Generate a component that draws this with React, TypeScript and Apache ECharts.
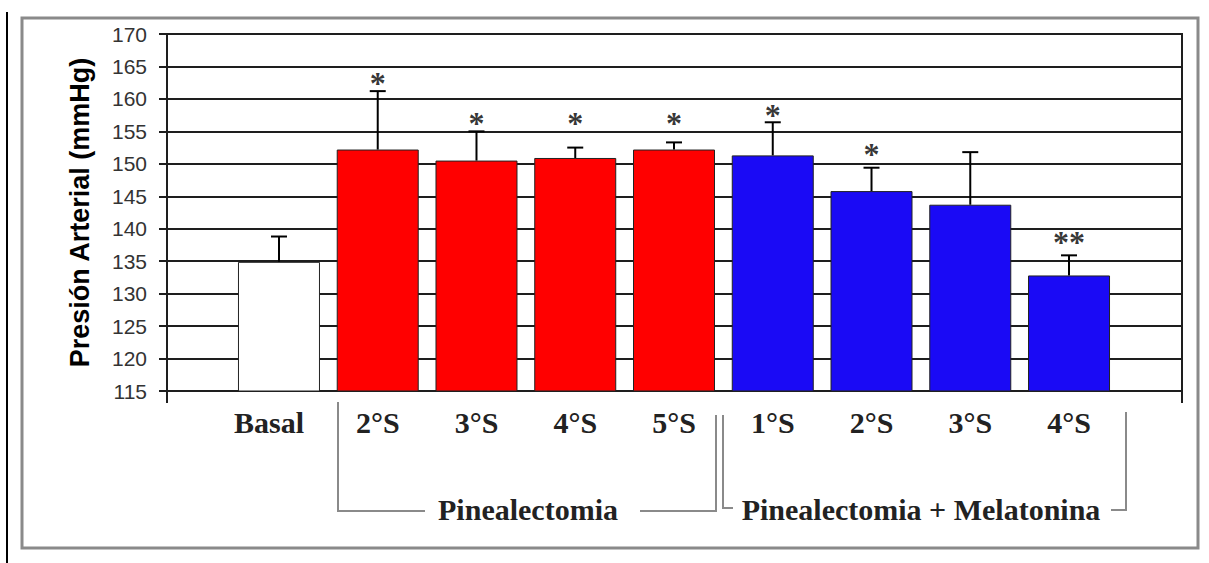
import React, { useEffect, useRef } from "react";
import * as echarts from "echarts";

const categories = ["Basal", "2°S", "3°S", "4°S", "5°S", "1°S", "2°S", "3°S", "4°S"];
const means = [134.9, 152.2, 150.5, 150.9, 152.2, 151.3, 145.8, 143.7, 132.8];
const errTops = [138.8, 161.2, 155.0, 152.5, 153.3, 156.4, 149.4, 151.8, 135.9];
const barColors = ["#ffffff", "#ff0000", "#ff0000", "#ff0000", "#ff0000", "#1a0af5", "#1a0af5", "#1a0af5", "#1a0af5"];
const starLabels = ["", "*", "*", "*", "*", "*", "*", "", "**"];
const starY = [0, 162.4, 156.3, 156.3, 156.3, 157.5, 151.5, 0, 138.0];
const yTicks = { min: 115, max: 170, step: 5 };
const groupLabels = ["Pinealectomia", "Pinealectomia + Melatonina"];

const W = 1209;
const H = 563;

export default function App() {
  const ref = useRef<HTMLDivElement>(null);
  useEffect(() => {
    if (!ref.current) return;
    const chart = echarts.init(ref.current, null, { renderer: "svg" });
    const gray = "#8a8a8a";
    const dark = "#1e1e1e";
    const serif = "'Liberation Serif', 'Times New Roman', serif";
    const sans = "'Liberation Sans', Arial, sans-serif";

    const starData = starLabels
      .map((s, i) => ({ name: s, value: [i, starY[i]] }))
      .filter((d) => d.name !== "");

    const option: any = {
      animation: false,
      backgroundColor: "#ffffff",
      grid: [
        { left: 167, right: 27, top: 34, bottom: 172, show: true, borderColor: dark, borderWidth: 2, backgroundColor: "transparent" },
        { left: 229.6, right: 90.6, top: 34, bottom: 172 },
      ],
      xAxis: [
        {
          gridIndex: 0,
          type: "value",
          min: 0,
          max: 1,
          interval: 1,
          axisLine: { show: true, lineStyle: { color: dark, width: 2 } },
          axisTick: { show: true, length: 12, lineStyle: { color: dark, width: 2 } },
          axisLabel: { show: false },
          splitLine: { show: false },
        },
        {
          gridIndex: 1,
          type: "category",
          data: categories.map((c, i) => (i === 0 ? { value: c, textStyle: { padding: [0, 20, 0, 0] } } : c)),
          axisLine: { show: false },
          axisTick: { show: false },
          axisLabel: { margin: 16, fontFamily: serif, fontWeight: "bold", fontSize: 30, color: "#222" },
        },
      ],
      yAxis: [
        {
          gridIndex: 0,
          type: "value",
          min: yTicks.min,
          max: yTicks.max,
          interval: yTicks.step,
          name: "Presión Arterial (mmHg)",
          nameLocation: "middle",
          nameRotate: 90,
          nameGap: 74,
          nameTextStyle: { fontFamily: sans, fontWeight: "bold", fontSize: 27, color: "#000" },
          axisLine: { show: true, lineStyle: { color: dark, width: 2 } },
          axisTick: { show: true, length: 8, lineStyle: { color: dark, width: 2 } },
          axisLabel: { margin: 20, fontFamily: sans, fontSize: 21, color: "#333" },
          splitLine: { show: true, lineStyle: { color: dark, width: 2 } },
        },
        {
          gridIndex: 1,
          type: "value",
          min: yTicks.min,
          max: yTicks.max,
          interval: yTicks.step,
          show: false,
          splitLine: { show: false },
        },
      ],
      series: [
        {
          type: "bar",
          xAxisIndex: 1,
          yAxisIndex: 1,
          barWidth: 82,
          data: means.map((v, i) => ({ value: v, itemStyle: { color: barColors[i] } })),
          itemStyle: { borderColor: "#222", borderWidth: 1 },
          z: 2,
        },
        {
          type: "custom",
          xAxisIndex: 1,
          yAxisIndex: 1,
          data: means.map((v, i) => [i, v, errTops[i]]),
          encode: { x: 0, y: [1, 2] },
          z: 3,
          renderItem: (params: any, api: any) => {
            const x = api.value(0);
            const p1 = api.coord([x, api.value(1)]);
            const p2 = api.coord([x, api.value(2)]);
            const style = { stroke: "#000", lineWidth: 2 };
            return {
              type: "group",
              children: [
                { type: "line", shape: { x1: p1[0], y1: p1[1], x2: p2[0], y2: p2[1] }, style },
                { type: "line", shape: { x1: p2[0] - 8, y1: p2[1], x2: p2[0] + 8, y2: p2[1] }, style },
              ],
            };
          },
        },
        {
          type: "scatter",
          xAxisIndex: 1,
          yAxisIndex: 1,
          symbolSize: 1,
          itemStyle: { color: "rgba(0,0,0,0)" },
          data: starData,
          z: 4,
          label: {
            show: true,
            position: "inside",
            formatter: "{b}",
            fontFamily: serif,
            fontWeight: "bold",
            fontSize: 32,
            color: "#000",
          },
        },
      ],
      graphic: [
        { type: "line", shape: { x1: 7, y1: 12, x2: 7, y2: H }, style: { stroke: "#000", lineWidth: 2 } },
        { type: "rect", shape: { x: 22, y: 18, width: 1176, height: 530 }, style: { fill: "none", stroke: gray, lineWidth: 3 } },
        { type: "polyline", shape: { points: [[338, 402], [338, 511], [425, 511]] }, style: { stroke: gray, lineWidth: 2, fill: "none" } },
        { type: "polyline", shape: { points: [[640, 511], [716, 511], [716, 415]] }, style: { stroke: gray, lineWidth: 2, fill: "none" } },
        { type: "polyline", shape: { points: [[723, 415], [723, 508], [733, 508]] }, style: { stroke: gray, lineWidth: 2, fill: "none" } },
        { type: "polyline", shape: { points: [[1111, 510], [1126, 510], [1126, 412]] }, style: { stroke: gray, lineWidth: 2, fill: "none" } },
        {
          type: "text",
          x: 528,
          y: 509,
          style: { text: groupLabels[0], font: `bold 30px ${serif}`, fill: "#222", align: "center", verticalAlign: "middle" },
        },
        {
          type: "text",
          x: 921,
          y: 509,
          style: { text: groupLabels[1], font: `bold 30px ${serif}`, fill: "#222", align: "center", verticalAlign: "middle" },
        },
      ],
    };
    chart.setOption(option);
    return () => chart.dispose();
  }, []);
  return <div ref={ref} style={{ position: "absolute", left: 0, top: 0, width: W, height: H }} />;
}
